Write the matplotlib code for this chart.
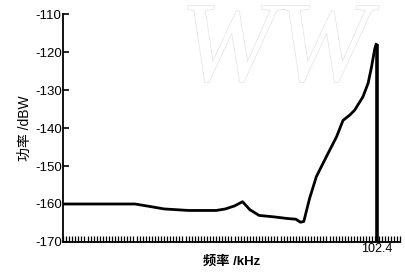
import matplotlib.pyplot as plt
from matplotlib.ticker import MultipleLocator, FixedLocator
import matplotlib.patheffects as pe

plt.rcParams['font.family'] = ['Liberation Sans', 'Noto Sans CJK SC', 'DejaVu Sans']

# spectrum trace (kHz, dBW)
freq = [0, 23.5, 28, 33, 41, 50, 53, 56, 58.6, 61, 64, 69, 73, 76, 77.5, 78.6,
        80.5, 82.7, 86, 89.3, 91.4, 93.6, 95.2, 97.9, 99.6, 100.7, 101.8, 102.2]
power = [-160, -160, -160.6, -161.3, -161.7, -161.7, -161.3, -160.5, -159.4,
         -161.5, -163, -163.4, -163.8, -164, -164.8, -164.6, -158.5, -152.8,
         -147.5, -142.3, -138, -136.6, -135.3, -131.8, -128.2, -124, -119, -118]
marker_freq = 102.4
y_ticks = [-110, -120, -130, -140, -150, -160, -170]

fig = plt.figure(figsize=(4.05, 2.72), dpi=100)
ax = fig.add_axes([0.1556, 0.1103, 0.832, 0.8382])

ax.plot(freq, power, color='black', lw=2.0, solid_joinstyle='round')
ax.vlines(marker_freq, -170, power[-1], color='black', lw=2.6)

# faint watermark
ax.text(0.63, 0.83, 'WW', transform=ax.transAxes, ha='center', va='center',
        fontsize=82, family='Liberation Serif', style='italic', color='white',
        path_effects=[pe.Stroke(linewidth=1.0, foreground='#e2e2e2'), pe.Normal()],
        zorder=0)

ax.set_xlim(0, 110)
ax.set_ylim(-170, -110)
ax.set_yticks(y_ticks)
ax.set_yticklabels([str(v) for v in y_ticks])
ax.xaxis.set_major_locator(FixedLocator([marker_freq]))
ax.set_xticklabels(['102.4'])
ax.xaxis.set_minor_locator(MultipleLocator(1))

ax.spines['top'].set_visible(False)
ax.spines['right'].set_visible(False)
ax.spines['left'].set_linewidth(1.3)
ax.spines['bottom'].set_linewidth(1.3)
ax.tick_params(axis='y', direction='in', length=4, width=1.2, labelsize=9.5, pad=1)
ax.tick_params(axis='x', which='major', direction='in', length=4, width=1.2,
               labelsize=9, pad=1)
ax.tick_params(axis='x', which='minor', direction='in', length=4, width=0.9)

ax.set_xlabel('频率 /kHz', fontsize=9.5, fontweight='bold', labelpad=0)
ax.set_ylabel('功率 /dBW', fontsize=10, labelpad=2)

fig.savefig('out.png', dpi=100)
